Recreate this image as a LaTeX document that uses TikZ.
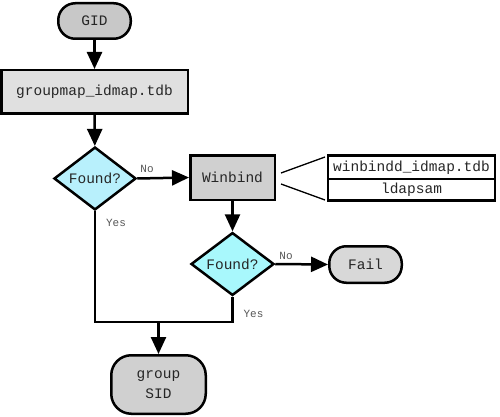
\documentclass[tikz,border=0pt]{standalone}
\usepackage{fontspec}
\setmonofont{Liberation Mono}
\usetikzlibrary{shapes.geometric,arrows.meta}
\definecolor{gidfill}{HTML}{C8C8C8}
\definecolor{gmfill}{HTML}{E0E0E0}
\definecolor{dafill}{HTML}{B8F0FC}
\definecolor{wbfill}{HTML}{D0D0D0}
\definecolor{dbfill}{HTML}{A8F8FC}
\definecolor{failfill}{HTML}{D8D8D8}
\definecolor{labgray}{HTML}{555555}
\tikzset{
  base/.style={draw=black,line width=2.5pt,inner sep=0pt,font=\ttfamily\fontsize{14.5}{20}\selectfont,text=black!85},
  term/.style={base,rectangle,rounded corners=17pt},
  proc/.style={base,rectangle},
  decide/.style={base,diamond},
  cell/.style={draw=black,line width=1.2pt,inner sep=0pt,rectangle,font=\ttfamily\fontsize{14.5}{20}\selectfont,text=black!85,minimum width=166pt},
  flow/.style={line width=2.5pt,-{Triangle[length=17pt,width=15pt]}},
  wire/.style={line width=2.5pt},
  thin/.style={line width=1.3pt},
  lab/.style={font=\ttfamily\fontsize{11}{13}\selectfont,text=labgray,inner sep=0pt}
}
\begin{document}
\begin{tikzpicture}[x=1pt,y=-1pt]
\useasboundingbox (0,0) rectangle (500,417);
\node[term,fill=gidfill,minimum width=72.5pt,minimum height=35.5pt] (gid) at (94.5,21) {GID};
\node[proc,fill=gmfill,minimum width=186.5pt,minimum height=43.5pt] (gm) at (94.5,92) {groupmap\_idmap.tdb};
\node[decide,fill=dafill,minimum width=82pt,minimum height=60pt] (d1) at (95,178.5) {Found?};
\node[proc,fill=wbfill,minimum width=84.5pt,minimum height=44.5pt] (wb) at (232.5,177.5) {Winbind};
\node[decide,fill=dbfill,minimum width=83pt,minimum height=61pt] (d2) at (232.5,264) {Found?};
\node[term,fill=failfill,minimum width=72.5pt,minimum height=36.5pt] (fail) at (365.5,264.5) {Fail};
\node[term,fill=wbfill,minimum width=94.5pt,minimum height=58.5pt,rounded corners=20pt,align=center] (sid) at (158.5,384.5) {group\\SID};
\node[cell,minimum height=23pt] (t1) at (411.5,167.5) {winbindd\_idmap.tdb};
\node[cell,minimum height=21pt] (t2) at (411.5,189.5) {ldapsam};
\draw[line width=2.5pt] (t1.north west) rectangle (t2.south east);
\coordinate (wa) at (281,173);
\coordinate (wb1) at (325,157);
\coordinate (wc) at (281,184);
\coordinate (wd) at (325,200);
\draw[thin] (wa) -- (wb1);
\draw[thin] (wc) -- (wd);
\draw[flow] (gid) -- (gm);
\draw[flow] (gm) -- (d1);
\draw[flow] (d1.east) -- (wb.west);
\draw[flow] (wb) -- (d2);
\draw[flow] (d2.east) -- (fail.west);
\coordinate (j1) at (95,322);
\coordinate (j2) at (232.5,322);
\coordinate (j3) at (158.5,322);
\draw[wire,line join=miter] (d1.south) -- (j1) -- (j2) -- (d2.south);
\draw[flow] (j3) -- (sid.north);
\node[lab] (no1) at (147,169) {No};
\node[lab] (yes1) at (116,223) {Yes};
\node[lab] (no2) at (286,256) {No};
\node[lab] (yes2) at (253.5,313.5) {Yes};
\end{tikzpicture}
\end{document}
